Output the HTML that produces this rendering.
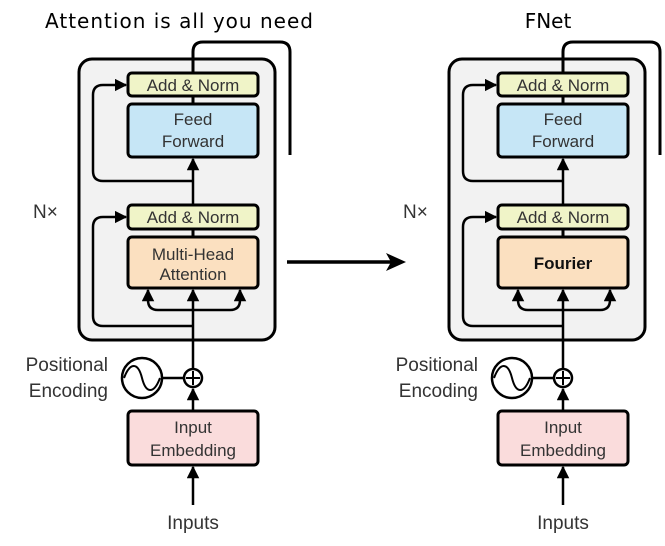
<!DOCTYPE html>
<html><head><style>body{margin:0;background:#fff}svg{display:block}</style></head><body>
<svg width="665" height="546" viewBox="0 0 665 546" xmlns="http://www.w3.org/2000/svg">
<defs>
<marker id="ah" viewBox="0 0 10 10" refX="9" refY="5" markerWidth="5" markerHeight="5" orient="auto"><path d="M0,0 L10,5 L0,10 z" fill="#000"/></marker>
<g id="blk" font-family="Liberation Sans, sans-serif" fill="#333">
<rect x="79" y="59" width="196" height="281" rx="13" fill="#f2f2f2" stroke="#000" stroke-width="3"/>
<path d="M193,96 V52 Q193,42 203,42 H280 Q290,42 290,52 V155" fill="none" stroke="#000" stroke-width="3"/>
<path d="M193,181 H103 Q93,181 93,171 V95 Q93,85 103,85 H126" fill="none" stroke="#000" stroke-width="2.5" marker-end="url(#ah)"/>
<path d="M193,326 H103 Q93,326 93,316 V227 Q93,217 103,217 H126" fill="none" stroke="#000" stroke-width="2.5" marker-end="url(#ah)"/>
<line x1="193" y1="229" x2="193" y2="237" stroke="#000" stroke-width="3"/>
<line x1="193" y1="96" x2="193" y2="104" stroke="#000" stroke-width="3"/>
<line x1="193" y1="205" x2="193" y2="159" stroke="#000" stroke-width="2.5" marker-end="url(#ah)"/>
<line x1="193" y1="370" x2="193" y2="290" stroke="#000" stroke-width="2.5" marker-end="url(#ah)"/>
<path d="M193,310 H158 Q148,310 148,300 V290" fill="none" stroke="#000" stroke-width="2.5" marker-end="url(#ah)"/>
<path d="M193,310 H230 Q240,310 240,300 V290" fill="none" stroke="#000" stroke-width="2.5" marker-end="url(#ah)"/>
<rect x="128" y="73" width="130" height="23" rx="4" fill="#f0f4c8" stroke="#000" stroke-width="3"/>
<text x="193" y="91" font-size="17" text-anchor="middle">Add &amp; Norm</text>
<rect x="128" y="104" width="130" height="53" rx="4" fill="#c6e6f6" stroke="#000" stroke-width="3"/>
<text x="193" y="125" font-size="17" text-anchor="middle">Feed</text>
<text x="193" y="147" font-size="17" text-anchor="middle">Forward</text>
<rect x="128" y="205" width="130" height="24" rx="4" fill="#f0f4c8" stroke="#000" stroke-width="3"/>
<text x="193" y="223" font-size="17" text-anchor="middle">Add &amp; Norm</text>
<rect x="128" y="237" width="130" height="51" rx="4" fill="#fbe0c0" stroke="#000" stroke-width="3"/>
<text x="33" y="218" font-size="19">N×</text>
<circle cx="142" cy="378" r="20" fill="#fff" stroke="#000" stroke-width="2.5"/>
<path d="M124,378 C130,362 138,362 142,378 C146,394 154,394 160,378" fill="none" stroke="#000" stroke-width="2"/>
<line x1="162" y1="378" x2="184" y2="378" stroke="#000" stroke-width="2.5"/>
<circle cx="193" cy="378" r="9" fill="#fff" stroke="#000" stroke-width="2.5"/>
<path d="M186,378 H200 M193,371 V385" stroke="#000" stroke-width="2"/>
<line x1="193" y1="411" x2="193" y2="389" stroke="#000" stroke-width="2.5" marker-end="url(#ah)"/>
<text x="108" y="371" font-size="19" text-anchor="end">Positional</text>
<text x="108" y="397" font-size="19" text-anchor="end">Encoding</text>
<rect x="128" y="411" width="130" height="54" rx="4" fill="#fadcdc" stroke="#000" stroke-width="3"/>
<text x="193" y="433" font-size="17" text-anchor="middle">Input</text>
<text x="193" y="456" font-size="17" text-anchor="middle">Embedding</text>
<line x1="193" y1="505" x2="193" y2="467" stroke="#000" stroke-width="2.5" marker-end="url(#ah)"/>
<text x="193" y="529" font-size="19" text-anchor="middle">Inputs</text>
</g>
</defs>
<use href="#blk"/>
<g font-family="Liberation Sans, sans-serif" fill="#333">
<text x="193" y="260" font-size="17" text-anchor="middle">Multi-Head</text>
<text x="193" y="280" font-size="17" text-anchor="middle">Attention</text>
</g>
<use href="#blk" transform="translate(370,0)"/>
<text x="563" y="269" font-size="17" font-weight="bold" text-anchor="middle" font-family="Liberation Sans, sans-serif" fill="#111">Fourier</text>
<text x="179" y="28" font-size="20" text-anchor="middle" font-family="DejaVu Sans, sans-serif" textLength="268">Attention is all you need</text>
<text x="548" y="28" font-size="20" text-anchor="middle" font-family="DejaVu Sans, sans-serif">FNet</text>
<line x1="287" y1="262" x2="398" y2="262" stroke="#000" stroke-width="3.5"/>
<path d="M386,253 L406,262 L386,271 L391,262 z" fill="#000"/>
</svg>
</body></html>
